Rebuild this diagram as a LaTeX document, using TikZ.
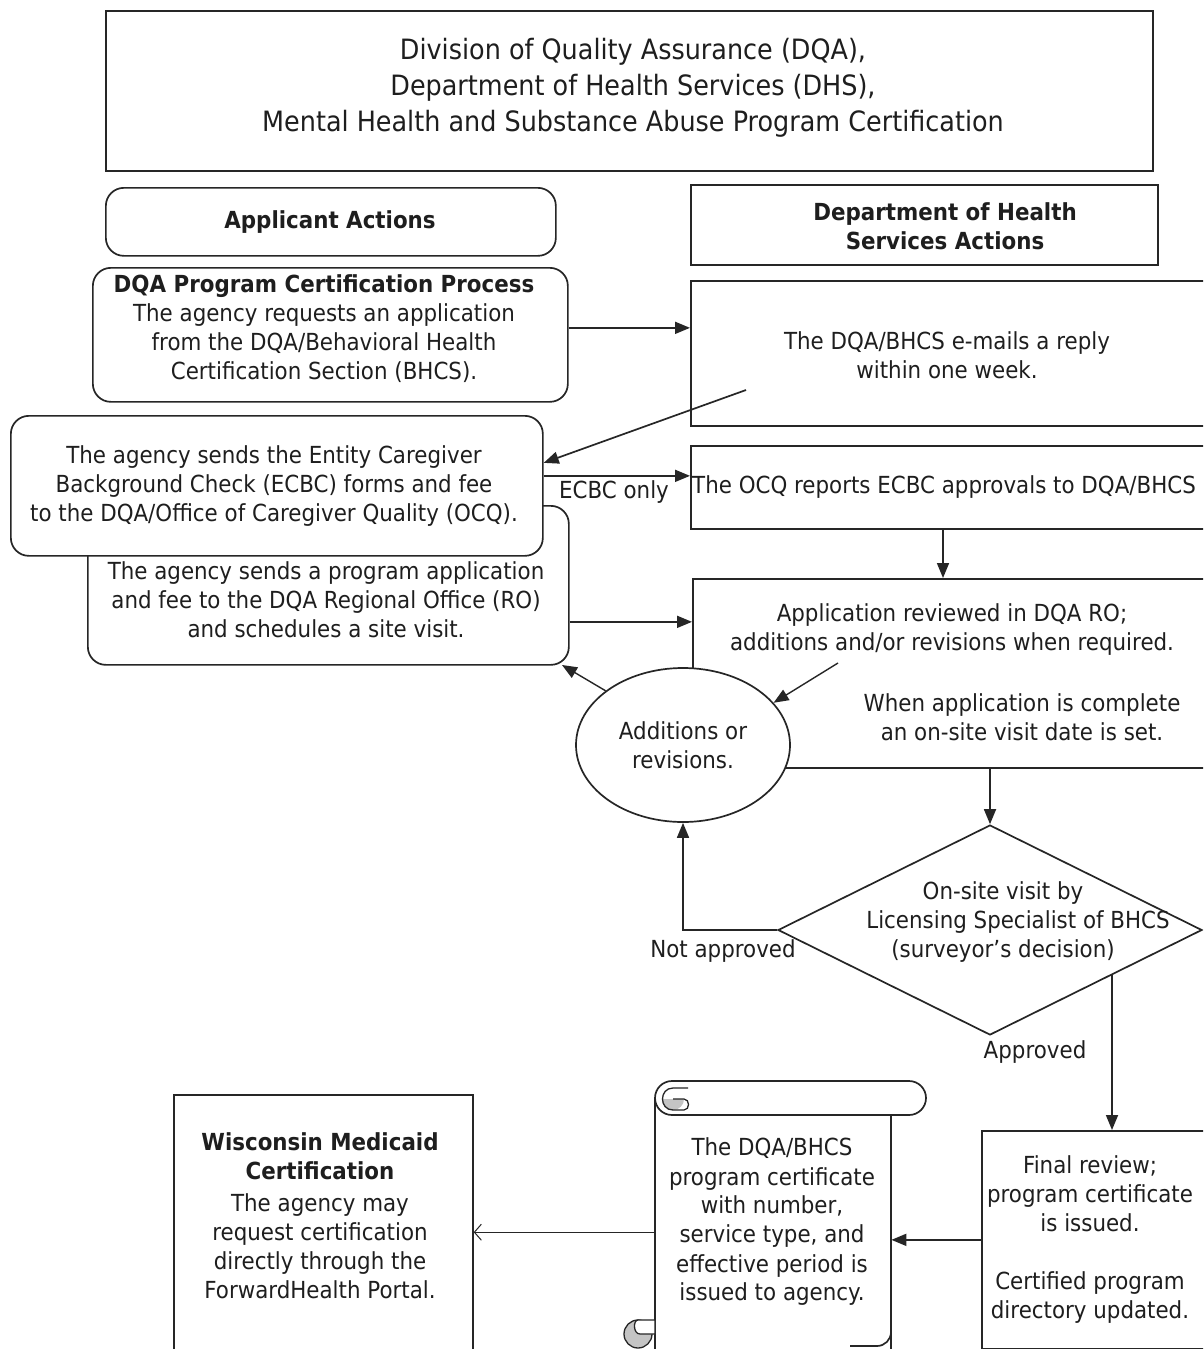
\documentclass[tikz,border=0pt]{standalone}
\usepackage{fontspec}
\setmainfont{DejaVu Sans}[FakeStretch=0.91]
\usetikzlibrary{arrows.meta,shapes.geometric,calc}
\definecolor{ln}{HTML}{262626}
\definecolor{tx}{HTML}{1E1E1E}
\definecolor{curl}{HTML}{C4C4C4}
\tikzset{
  box/.style={draw=ln, line width=1.7pt, fill=white, inner sep=0pt},
  rbox/.style={box, rounded corners=18pt},
  txt/.style={align=center, font=\fontsize{23.5}{29}\selectfont, text=tx, inner sep=0pt},
  ttl/.style={align=center, font=\fontsize{28}{36}\selectfont, text=tx, inner sep=0pt},
  arr/.style={draw=ln, line width=1.7pt, -{Triangle[length=15pt,width=12pt]}},
  oarr/.style={draw=ln, line width=1pt, -{Straight Barb[length=7pt,width=16pt,line width=1pt]}},
  plain/.style={draw=ln, line width=1.7pt}
}
\begin{document}
\begin{tikzpicture}[x=1pt,y=-1pt]
\useasboundingbox (0,0) rectangle (1203,1349);
\clip (0,0) rectangle (1203,1349);
\fill[white] (0,0) rectangle (1203,1349);

% header boxes
\node[box, anchor=north west, minimum width=1047pt, minimum height=160pt] (title) at (105,10) {};
\node[ttl] (titletext) at (633,88) {Division of Quality Assurance (DQA),\\Department of Health Services (DHS),\\Mental Health and Substance Abuse Program Certification};
\node[rbox, anchor=north west, minimum width=450pt, minimum height=68pt] (appl) at (105,187) {};
\node[txt, font=\fontsize{23.5}{29}\selectfont\bfseries] (appltext) at (330,222) {Applicant Actions};
\node[box, anchor=north west, minimum width=467pt, minimum height=80pt] (dhs) at (690,184) {};
\node[txt, font=\fontsize{23.5}{29}\selectfont\bfseries] (dhstext) at (945,226) {Department of Health\\Services Actions};

% left column
\node[rbox, anchor=north west, minimum width=475pt, minimum height=134pt] (dqa) at (92,267) {};
\node[txt] (dqatext) at (324,329) {\textbf{DQA Program Certification Process}\\The agency requests an application\\from the DQA/Behavioral Health\\Certification Section (BHCS).};
\node[rbox, anchor=north west, minimum width=481pt, minimum height=159pt] (prog) at (87,505) {};
\node[txt] (progtext) at (326,600) {The agency sends a program application\\and fee to the DQA Regional Office (RO)\\and schedules a site visit.};
\node[rbox, anchor=north west, minimum width=532pt, minimum height=140pt] (ecbc) at (10,415) {};
\node[txt] (ecbctext) at (274,486) {The agency sends the Entity Caregiver\\Background Check (ECBC) forms and fee\\to the DQA/Office of Caregiver Quality (OCQ).};

% right column
\node[box, anchor=north west, minimum width=540pt, minimum height=145pt] (email) at (690,280) {};
\node[txt] (emailtext) at (947,355) {The DQA/BHCS e-mails a reply\\within one week.};
\node[box, anchor=north west, minimum width=540pt, minimum height=83pt] (ocq) at (690,445) {};
\node[txt, anchor=west] (ocqtext) at (692,487) {The OCQ reports ECBC approvals to DQA/BHCS};
\node[box, anchor=north west, minimum width=540pt, minimum height=189pt] (review) at (692,578) {};
\node[txt] (reviewtext) at (952,630) {Application reviewed in DQA RO;\\additions and/or revisions when required.};
\node[txt] (completetext) at (1022,717) {When application is complete\\an on-site visit date is set.};

\node[draw=ln, line width=1.7pt, fill=white, ellipse, minimum width=214pt, minimum height=154pt, inner sep=0pt, align=center, font=\fontsize{23.5}{29}\selectfont, text=tx] (ell) at (683,745) {Additions or\\revisions.};

\node[draw=ln, line width=1.7pt, fill=white, diamond, minimum width=424pt, minimum height=210pt, inner sep=0pt] (dia) at (990,930) {};
\node[txt] (diatext) at (1003,922) {On-site visit by\\\hspace*{30pt}Licensing Specialist of BHCS\\(surveyor’s decision)};

\node[box, anchor=north west, minimum width=260pt, minimum height=218pt] (final) at (981,1130) {};
\node[txt] (finaltext) at (1090,1239) {Final review;\\program certificate\\is issued.\\[29pt]Certified program\\directory updated.};

\node[box, anchor=north west, minimum width=299pt, minimum height=260pt] (wisc) at (173,1094) {};
\node[txt] (wisctext) at (320,1216) {\textbf{Wisconsin Medicaid}\\\textbf{Certification}\\[3pt]The agency may\\request certification\\directly through the\\ForwardHealth Portal.};

% scroll
\node[inner sep=0pt, minimum width=236pt, minimum height=251pt, anchor=north west] (scroll) at (655,1098) {};
\draw[plain, fill=white] (655,1098) -- (655,1360) -- (891,1360) -- (891,1115);
\draw[plain, rounded corners=14pt] (891,1115) -- (891,1346) -- (850,1346);
\draw[plain, fill=white, rounded corners=17pt] (655,1081) rectangle (926,1115);
\begin{scope}
  \clip (655,1099) rectangle (700,1118);
  \fill[curl] (673,1099) circle (11pt);
\end{scope}
\draw[line width=1.3pt, draw=ln] (688,1088) -- (673,1088) .. controls (659,1088) and (659,1110) .. (673,1110) -- (684,1110) .. controls (690,1110) and (690,1099) .. (684,1099) -- (673,1099);
\draw[line width=1.3pt, draw=ln, fill=curl] (638,1334) circle (14pt);
\draw[line width=1.3pt, draw=ln, fill=white] (638,1320) -- (655,1320) -- (655,1334) -- (640,1334) .. controls (633,1334) and (633,1320) .. (638,1320);
\node[txt] (scrolltext) at (772,1222) {The DQA/BHCS\\program certificate\\with number,\\service type, and\\effective period is\\issued to agency.};

% labels
\node[txt] (lblecbc) at (614,492) {ECBC only};
\node[txt] (lblnot) at (723,951) {Not approved};
\node[txt] (lblapp) at (1035,1052) {Approved};

% connectors
\coordinate (e1) at (746,390);
\coordinate (x943) at (943,0);
\coordinate (p1) at (562,665);
\coordinate (r1) at (838,663);
\coordinate (d1) at (1112,975);

\draw[arr] ([yshift=7pt]dqa.east) -- ([yshift=7pt]dqa.east -| email.west);
\draw[arr] (e1) -- ([yshift=23pt]ecbc.east);
\draw[arr] ([yshift=10pt]ecbc.east) -- ([yshift=10pt]ecbc.east -| ocq.west);
\draw[arr] (ocq.south -| x943) -- (review.north -| x943);
\draw[arr] ([yshift=-36.5pt]prog.east) -- ([yshift=-36.5pt]prog.east -| review.west);
\draw[arr, line width=1.4pt] (r1) -- (ell.25);
\draw[arr, line width=1.4pt] (ell.145) -- (p1);
\draw[arr] (review.south -| dia.north) -- (dia.north);
\draw[arr] (dia.west) -| (ell.south);
\draw[arr] (d1) -- (final.north -| d1);
\draw[arr] (final.west) -- (final.west -| scroll.east);
\draw[oarr] ([yshift=-8.5pt]scroll.west) -- ([yshift=-8.5pt]scroll.west -| wisc.east);
\end{tikzpicture}
\end{document}
